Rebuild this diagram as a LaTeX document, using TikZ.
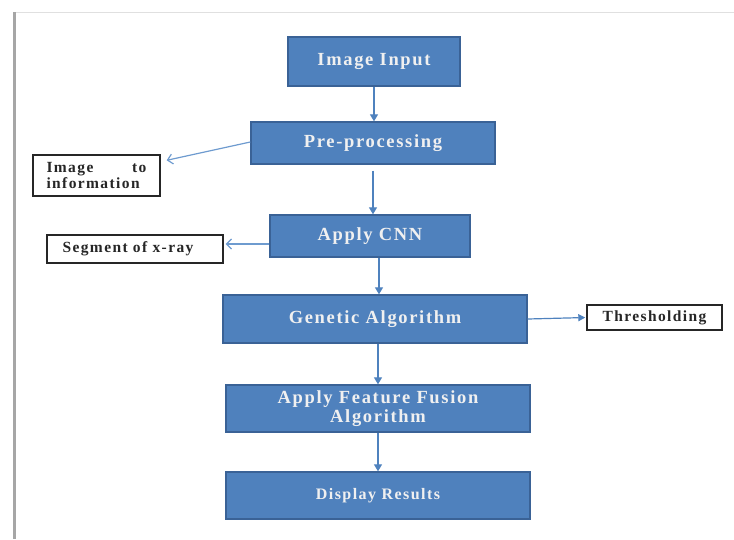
\documentclass[tikz,border=0pt]{standalone}
\usepackage{fontspec}
\setmainfont{Liberation Serif}
\newfontfamily\boxfont[LetterSpace=9]{Liberation Serif}
\usetikzlibrary{arrows.meta}
\definecolor{boxblue}{HTML}{4F81BD}
\definecolor{boxedge}{HTML}{3A6296}
\definecolor{arrowblue}{HTML}{4F82BE}
\definecolor{sidearrow}{HTML}{6E9BCF}
\tikzset{
  bluebox/.style={draw=boxedge, line width=1.4pt, fill=boxblue, text=white!94!black,
    font=\boxfont\bfseries\fontsize{18.5}{18.5}\selectfont, inner sep=0pt, align=center},
  sidebox/.style={draw=black!85, line width=1.4pt, fill=white, text=black!85,
    font=\boxfont\bfseries\fontsize{15.5}{15.5}\selectfont, inner sep=0pt},
  mainarrow/.style={draw=arrowblue, line width=1.3pt, -{Triangle[length=7pt,width=8pt]}},
  sidearr/.style={draw=sidearrow, line width=1.2pt, -{Straight Barb[length=5pt,width=10pt]}},
  fillarr/.style={draw=arrowblue, line width=1.2pt, -{Triangle[length=7pt,width=7pt]}}
}
\begin{document}
\begin{tikzpicture}[x=1pt,y=-1pt]
\useasboundingbox (0,0) rectangle (734,539);
% page frame
\draw[black!12, line width=1pt] (14,12) -- (734,12);
\draw[black!35, line width=2.5pt] (14.5,12) -- (14.5,539);
% main flow boxes
\node[bluebox, minimum width=172pt, minimum height=49pt] (in) at (374,61.5) {Image Input};
\node[bluebox, minimum width=244pt, minimum height=42pt] (pre) at (373,143) {Pre-processing};
\node[bluebox, minimum width=200pt, minimum height=42pt] (cnn) at (370,236) {Apply CNN};
\node[bluebox, minimum width=304pt, minimum height=48pt] (ga) at (375,319) {Genetic Algorithm};
\node[bluebox, minimum width=304pt, minimum height=47pt] (fus) at (378,408.5) {Apply Feature Fusion\\Algorithm};
\node[bluebox, minimum width=304pt, minimum height=47pt, font=\boxfont\bfseries\fontsize{16}{17}\selectfont] (disp) at (378,495.5) {Display Results};
% side boxes
\node[sidebox, minimum width=127pt, minimum height=41pt, text width=100pt, align=left] (info) at (96.5,175.5) {Image\hfill to\\information};
\node[sidebox, minimum width=176pt, minimum height=28pt] (seg) at (135,249) {Segment of x-ray\kern14pt};
\node[sidebox, minimum width=135pt, minimum height=25pt] (thr) at (654.5,317.5) {Thresholding};
% main arrows
\draw[mainarrow] (in.south) -- (in.south |- pre.north);
\draw[mainarrow] ([yshift=-6pt]pre.south) -- (pre.south |- cnn.north);
\draw[mainarrow] ([xshift=9pt]cnn.south) -- ([xshift=9pt]cnn.south |- ga.north);
\draw[mainarrow] ([xshift=3pt]ga.south) -- ([xshift=3pt]ga.south |- fus.north);
\draw[mainarrow] (fus.south) -- (fus.south |- disp.north);
% side arrows
\draw[sidearr] ([yshift=1pt]pre.west) -- ([xshift=6pt,yshift=-6pt]info.north east);
\draw[sidearr] ([yshift=-8pt]cnn.west) -- ([xshift=2pt,yshift=-8pt]cnn.west -| seg.east);
\draw[fillarr, shorten >=1pt] (ga.east) -- (thr.west);
\end{tikzpicture}
\end{document}
